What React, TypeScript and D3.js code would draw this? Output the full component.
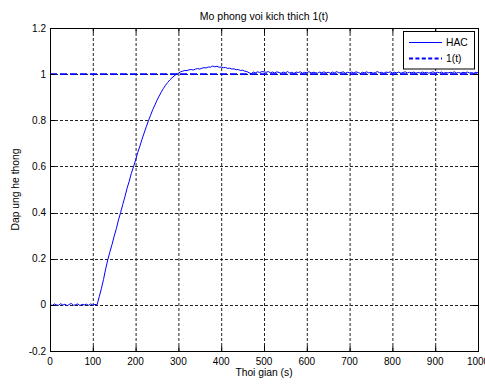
import React from "react";
import * as d3 from "d3";

const X_TICKS = [0, 100, 200, 300, 400, 500, 600, 700, 800, 900, 1000];
const Y_TICKS = [-0.2, 0, 0.2, 0.4, 0.6, 0.8, 1.0, 1.2];
const Y_TICK_LABELS = ["-0.2", "0", "0.2", "0.4", "0.6", "0.8", "1", "1.2"];
const TITLE = "Mo phong voi kich thich 1(t)";
const X_LABEL = "Thoi gian (s)";
const Y_LABEL = "Dap ung he thong";
const SERIES_NAMES = ["HAC", "1(t)"];

// reference step 1(t)
const STEP: [number, number][] = [[0, 1], [1000, 1]];

// HAC response [t, y]
const HAC_FLAT: [number, number][] = [
  [0, 0.002], [5, -0.003], [10, 0.004], [15, 0.0], [20, -0.002], [25, 0.005], [30, -0.001],
  [35, 0.003], [40, -0.004], [45, 0.002], [50, 0.006], [55, -0.002], [60, 0.001], [65, 0.004],
  [70, -0.003], [75, 0.002], [80, 0.0], [85, 0.003], [90, -0.002], [95, 0.004], [100, -0.001],
  [105, 0.002], [110, 0.0],
];
const HAC_RISE: [number, number][] = [
  [115, 0.035], [120, 0.07], [125, 0.11], [130, 0.155], [135, 0.195], [140, 0.23], [145, 0.262],
  [150, 0.298], [155, 0.33], [160, 0.368], [165, 0.4], [170, 0.435], [175, 0.468], [180, 0.505],
  [185, 0.535], [190, 0.57], [195, 0.598], [200, 0.628], [205, 0.66], [210, 0.688], [215, 0.718],
  [220, 0.745], [225, 0.772], [230, 0.798], [235, 0.822], [240, 0.846], [245, 0.866], [250, 0.887],
  [255, 0.905], [260, 0.922], [265, 0.938], [270, 0.952], [275, 0.964], [280, 0.975], [285, 0.984],
  [290, 0.992], [295, 0.999],
];
const HAC_OVERSHOOT: [number, number][] = [
  [300, 1.004], [305, 1.010], [310, 1.013], [315, 1.016], [320, 1.015], [325, 1.019], [330, 1.020],
  [335, 1.018], [340, 1.022], [345, 1.024], [350, 1.022], [355, 1.026], [360, 1.028], [365, 1.027],
  [370, 1.031], [375, 1.030], [380, 1.035], [385, 1.032], [390, 1.034], [395, 1.030], [400, 1.031],
  [405, 1.028], [410, 1.029], [415, 1.025], [420, 1.026], [425, 1.022], [430, 1.023], [435, 1.019],
  [440, 1.020], [445, 1.016], [450, 1.017], [455, 1.013], [460, 1.011], [465, 1.006], [470, 1.002],
  [475, 1.009], [480, 1.006], [485, 1.010], [490, 1.007], [495, 1.011],
];
const HAC_TAIL: [number, number][] = [
  [500, 1.010], [505, 1.008], [510, 1.011], [515, 1.006], [520, 1.009], [525, 1.005], [530, 1.010],
  [535, 1.007], [540, 1.004], [545, 1.009], [550, 1.006], [555, 1.011], [560, 1.005], [565, 1.008],
  [570, 1.003], [575, 1.009], [580, 1.007], [585, 1.010], [590, 1.004], [595, 1.008], [600, 1.006],
  [605, 1.011], [610, 1.005], [615, 1.008], [620, 1.007], [625, 1.004], [630, 1.009], [635, 1.006],
  [640, 1.010], [645, 1.005], [650, 1.008], [655, 1.004], [660, 1.009], [665, 1.006], [670, 1.011],
  [675, 1.005], [680, 1.007], [685, 1.010], [690, 1.004], [695, 1.008], [700, 1.006], [705, 1.009],
  [710, 1.005], [715, 1.010], [720, 1.007], [725, 1.003], [730, 1.008], [735, 1.006], [740, 1.010],
  [745, 1.005], [750, 1.008], [755, 1.004], [760, 1.007], [765, 1.011], [770, 1.006], [775, 1.008],
  [780, 1.004], [785, 1.009], [790, 1.007], [795, 1.010], [800, 1.005], [805, 1.008], [810, 1.006],
  [815, 1.009], [820, 1.004], [825, 1.007], [830, 1.010], [835, 1.005], [840, 1.008], [845, 1.006],
  [850, 1.009], [855, 1.004], [860, 1.007], [865, 1.005], [870, 1.009], [875, 1.006], [880, 1.008],
  [885, 1.004], [890, 1.007], [895, 1.010], [900, 1.005], [905, 1.008], [910, 1.006], [915, 1.009],
  [920, 1.004], [925, 1.007], [930, 1.005], [935, 1.008], [940, 1.006], [945, 1.010], [950, 1.005],
  [955, 1.007], [960, 1.004], [965, 1.008], [970, 1.006], [975, 1.009], [980, 1.005], [985, 1.007],
  [990, 1.004], [995, 1.008], [1000, 1.006],
];
const HAC = [...HAC_FLAT, ...HAC_RISE, ...HAC_OVERSHOOT, ...HAC_TAIL];

const W = 485;
const H = 385;
const L = 50, R = 478, T = 28, B = 351;
const FONT = "'Liberation Sans', Arial, sans-serif";
const BLUE = "#0000ff";

export default function App() {
  const x = d3.scaleLinear().domain([0, 1000]).range([L, R]);
  const y = d3.scaleLinear().domain([-0.2, 1.2]).range([B, T]);
  const line = d3.line<[number, number]>().x((d) => x(d[0])).y((d) => y(d[1]));
  const tick = 5;
  return (
    <div style={{ position: "absolute", left: 0, top: 0 }}>
      <svg width={W} height={H} style={{ display: "block", background: "#fff" }} fontFamily={FONT}>
        <rect x={0} y={0} width={W} height={H} fill="#fff" />
        <rect x={L} y={T} width={R - L} height={B - T} fill="#fff" />
        {/* grid */}
        {X_TICKS.slice(1, -1).map((t) => (
          <line key={"gx" + t} x1={x(t) + 0.5} x2={x(t) + 0.5} y1={T} y2={B} stroke="#222" strokeWidth={1} strokeDasharray="3 2" />
        ))}
        {Y_TICKS.slice(1, -1).map((t) => (
          <line key={"gy" + t} x1={L} x2={R} y1={Math.round(y(t)) + 0.5} y2={Math.round(y(t)) + 0.5} stroke="#222" strokeWidth={1} strokeDasharray="3 2" />
        ))}
        {/* data */}
        <path d={line(STEP) || ""} fill="none" stroke={BLUE} strokeWidth={1.8} strokeDasharray="7 3" />
        <path d={line(HAC) || ""} fill="none" stroke={BLUE} strokeWidth={1} />
        {/* axes box */}
        <rect x={L + 0.5} y={T + 0.5} width={R - L} height={B - T} fill="none" stroke="#000" strokeWidth={1} />
        {X_TICKS.map((t) => (
          <g key={"xt" + t}>
            <line x1={x(t) + 0.5} x2={x(t) + 0.5} y1={B} y2={B - tick} stroke="#000" />
            <line x1={x(t) + 0.5} x2={x(t) + 0.5} y1={T} y2={T + tick} stroke="#000" />
            <text x={x(t)} y={B + 13.5} fontSize={10} textAnchor="middle" fill="#000">{t}</text>
          </g>
        ))}
        {Y_TICKS.map((t, i) => (
          <g key={"yt" + t}>
            <line x1={L} x2={L + tick} y1={Math.round(y(t)) + 0.5} y2={Math.round(y(t)) + 0.5} stroke="#000" />
            <line x1={R} x2={R - tick} y1={Math.round(y(t)) + 0.5} y2={Math.round(y(t)) + 0.5} stroke="#000" />
            <text x={L - 4} y={y(t) + 3.6} fontSize={10} textAnchor="end" fill="#000">{Y_TICK_LABELS[i]}</text>
          </g>
        ))}
        {/* labels */}
        <text x={(L + R) / 2} y={20} fontSize={10.5} textAnchor="middle" fill="#000">{TITLE}</text>
        <text x={(L + R) / 2} y={376} fontSize={10.3} textAnchor="middle" fill="#000">{X_LABEL}</text>
        <text transform={`translate(19, ${(T + B) / 2}) rotate(-90)`} fontSize={10.3} textAnchor="middle" fill="#000">{Y_LABEL}</text>
        {/* legend */}
        <rect x={403.5} y={31.5} width={71} height={37.5} fill="#fff" stroke="#000" strokeWidth={1} />
        <line x1={409} x2={442} y1={42.5} y2={42.5} stroke={BLUE} strokeWidth={1} />
        <text x={446} y={46.2} fontSize={10.3} fill="#000">{SERIES_NAMES[0]}</text>
        <line x1={409} x2={442} y1={58.5} y2={58.5} stroke={BLUE} strokeWidth={1.8} strokeDasharray="4 2.4" />
        <text x={446} y={62.2} fontSize={10.3} fill="#000">{SERIES_NAMES[1]}</text>
      </svg>
    </div>
  );
}
